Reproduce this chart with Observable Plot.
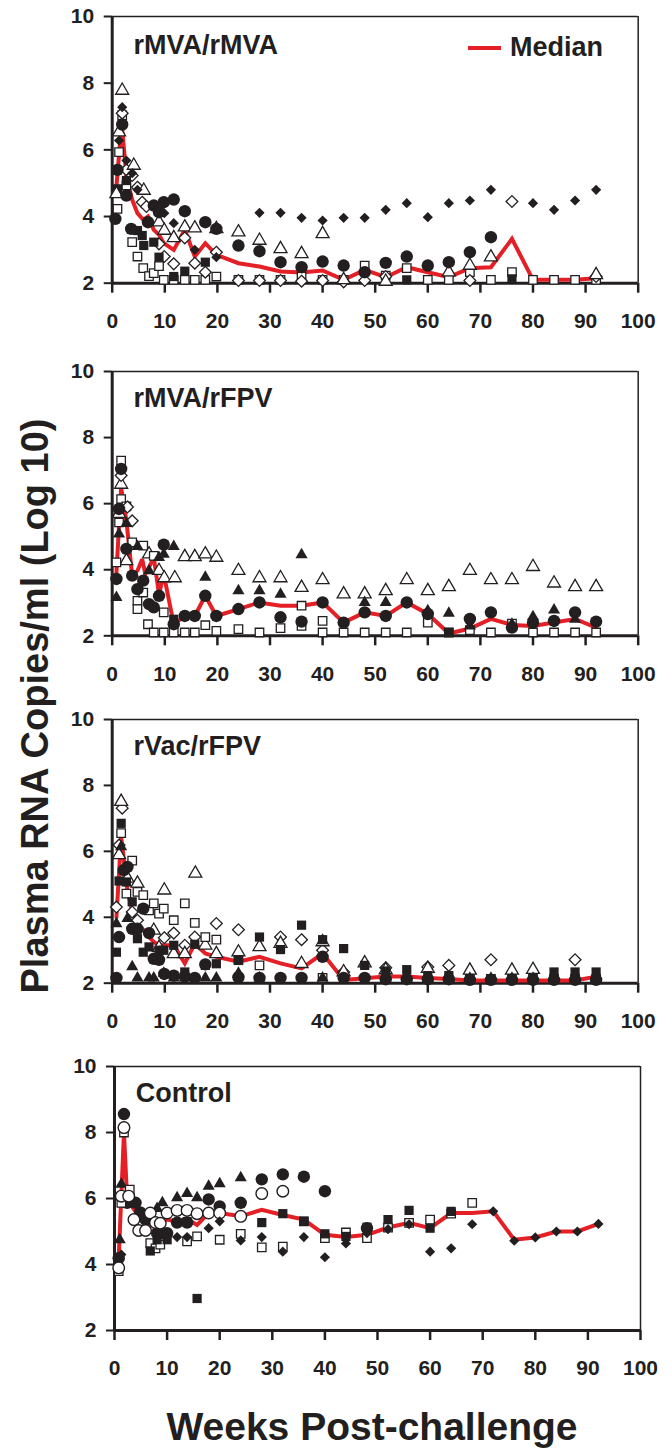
<!DOCTYPE html>
<html><head><meta charset="utf-8">
<script src="https://cdn.jsdelivr.net/npm/d3@7"></script>
<script src="https://cdn.jsdelivr.net/npm/@observablehq/plot@0.6"></script>
<style>
body{margin:0;background:#fff;}
#wrap{position:relative;width:671px;height:1453px;overflow:hidden;font-family:"Liberation Sans",Arial,Helvetica,sans-serif;font-weight:bold;color:#231f20;}
.panel{position:absolute;left:0;}
#ytitle{position:absolute;left:35px;top:706px;transform:translate(-50%,-50%) rotate(-90deg);white-space:nowrap;font-size:38px;line-height:1;}
#xtitle{position:absolute;left:372px;top:1407px;transform:translateX(-50%);white-space:nowrap;font-size:39px;line-height:1;}
#legend{position:absolute;left:468px;top:34px;font-size:27px;line-height:1;white-space:nowrap;}
#legend .bar{position:absolute;left:0;top:12px;width:33px;height:4px;background:#e41f26;}
#legend .lbl{position:absolute;left:42px;top:0;}
</style></head><body><div id="wrap"></div>
<script>
const xTicks = [0,10,20,30,40,50,60,70,80,90,100];
const yTicks = [2,4,6,8,10];
const panelLabels = ["rMVA/rMVA","rMVA/rFPV","rVac/rFPV","Control"];
const legendLabel = "Median";
const yTitle = "Plasma RNA Copies/ml (Log 10)";
const xTitle = "Weeks Post-challenge";

// ---- Panel 1: rMVA/rMVA ----
const p1Median = [[0.8,4.9],[1.8,6.8],[2.7,5.2],[3.8,4.5],[4.8,4.1],[5.9,3.9],[6.8,4.0],[7.9,3.6],[8.9,3.45],[9.8,3.2],[11.7,3.0],[13.8,3.6],[15.7,2.8],[17.7,3.2],[19.8,2.85],[24,2.6],[28,2.5],[32,2.35],[36,2.32],[40,2.38],[44,2.1],[48,2.4],[52,2.18],[56,2.48],[60,2.33],[64,2.18],[68,2.45],[72,2.48],[76,3.33],[80,2.1],[84,2.1],[88,2.1],[92,2.15]];
const p1CircleF = [[0.6,3.93],[1,5.4],[1.9,6.76],[2.7,4.63],[3.6,3.63],[6.8,3.83],[7.9,4.33],[8.9,4.13],[9.8,4.43],[11.7,4.51],[13.8,4.16],[17.7,3.83],[19.8,3.63],[24,3.13],[28,2.96],[32,2.63],[36,2.48],[40,2.65],[44,2.53],[48,2.33],[52,2.61],[56,2.8],[60,2.53],[64,2.63],[68,2.93],[72,3.38]];
const p1TriangleO = [[0.8,4.68],[1.3,6.53],[1.9,7.78],[4.1,5.53],[6,4.78],[8.9,3.83],[9.9,3.58],[11.7,3.36],[13.8,3.68],[15.7,3.65],[19.8,3.63],[24,3.53],[28,3.28],[32,3.03],[36,2.88],[40,3.48],[44,2.1],[52,2.05],[64,2.33],[68,2.53],[72,2.78],[92,2.25]];
const p1DiamondF = [[1.3,6.28],[1.9,7.28],[2.7,5.68],[3.8,5.3],[4.8,4.8],[9.9,4.1],[11.7,3.8],[15.7,3.0],[19.8,2.78],[28,4.11],[32,4.11],[36,3.96],[40,3.88],[44,3.96],[48,3.96],[52,4.2],[56,4.4],[60,3.98],[64,4.4],[68,4.48],[72,4.8],[80,4.4],[84,4.2],[88,4.48],[92,4.8]];
const p1DiamondO = [[1.9,7.1],[2.7,5.4],[3.8,5.23],[4.8,4.88],[5.7,4.43],[6.5,4.3],[8.9,3.18],[9.9,2.8],[11.7,2.58],[13.8,3.36],[15.7,2.6],[17.7,2.33],[19.8,2.93],[24,2.08],[28,2.08],[32,2.08],[36,2.06],[40,2.08],[44,2.04],[48,2.08],[52,2.2],[68,2.08],[76,4.45],[92,2.2]];
const p1SquareF = [[1,4.83],[2.7,5.08],[4.8,3.58],[5.7,3.43],[6,3.13],[7.9,3.23],[8.9,2.78],[11.7,2.2],[13.8,2.36],[17.7,2.63],[56,2.1],[76,2.13]];
const p1SquareO = [[1,4.23],[1.3,5.93],[1.9,7.03],[2.7,4.93],[3.8,3.23],[4.8,2.8],[5.9,2.45],[7,2.21],[7.9,2.3],[8.9,2.51],[9.8,2.1],[11.7,2.1],[13.8,2.1],[15.7,2.1],[17.7,2.1],[19.8,2.2],[24,2.1],[28,2.1],[32,2.1],[36,2.2],[40,2.1],[44,2.1],[48,2.53],[52,2.23],[56,2.45],[60,2.1],[64,2.1],[68,2.33],[72,2.1],[76,2.33],[80,2.1],[84,2.1],[88,2.1],[92,2.1]];

// ---- Panel 2: rMVA/rFPV ----
const p2Median = [[0.8,3.9],[1.7,6.49],[2.7,5.48],[3.8,3.82],[4.8,3.97],[5.7,4.32],[6.3,3.87],[7,4.07],[7.9,4.37],[8.9,3.26],[9.8,3.87],[11.7,2.35],[13.8,2.6],[15.7,2.6],[17.7,3.21],[19.8,2.6],[24,2.81],[28,3.01],[32,2.91],[36,2.91],[40,3.01],[44,2.4],[48,2.71],[52,2.6],[56,3.01],[60,2.66],[64,2.07],[68,2.22],[72,2.51],[76,2.33],[80,2.3],[84,2.4],[88,2.51],[92,2.25]];
const p2CircleF = [[0.8,3.72],[1.3,5.84],[1.7,7.05],[2.7,4.63],[3.8,3.82],[4.8,3.41],[5.9,3.67],[7,2.96],[7.9,2.86],[8.9,3.21],[9.8,4.76],[11.7,2.35],[13.8,2.6],[15.7,2.6],[17.7,3.21],[19.8,2.6],[24,2.81],[28,3.01],[32,2.56],[36,2.43],[40,3.01],[44,2.4],[48,2.71],[52,2.6],[56,3.01],[60,2.66],[68,2.51],[72,2.71],[76,2.25],[80,2.4],[84,2.45],[88,2.71],[92,2.43]];
const p2TriangleF = [[0.8,3.16],[1.3,5.08],[2.7,5.4],[4.8,4.7],[7,3.97],[8.9,4.37],[9.8,4.47],[11.7,4.7],[17.7,3.77],[24,3.36],[28,3.36],[32,3.26],[36,4.45],[48,3.01],[52,3.01],[60,2.76],[64,2.68],[68,2.3],[76,2.35],[80,2.58],[84,2.78],[88,2.5]];
const p2TriangleO = [[1.3,5.7],[1.7,6.58],[2.7,4.27],[7,4.47],[8.9,3.97],[9.9,3.75],[11.9,3.75],[13.8,4.39],[15.7,4.39],[17.7,4.47],[19.8,4.37],[24,3.97],[28,3.75],[32,3.75],[36,3.46],[40,3.69],[44,3.26],[48,3.26],[52,3.36],[56,3.69],[60,3.36],[64,3.48],[68,3.97],[72,3.69],[76,3.69],[80,4.09],[84,3.59],[88,3.48],[92,3.48]];
const p2SquareF = [[11.7,2.5],[64,2.1]];
const p2SquareO = [[0.8,4.22],[1.3,5.43],[1.7,7.3],[1.7,6.14],[2.7,5.92],[3.8,4.83],[4.8,3.06],[4.8,2.81],[5.9,4.73],[5.9,3.31],[6.8,2.35],[7.9,4.42],[7.9,2.1],[9.8,2.71],[9.8,2.1],[11.7,2.1],[13.8,2.1],[15.7,2.1],[17.7,2.32],[19.8,2.15],[24,2.2],[28,2.1],[32,2.23],[36,2.91],[36,2.3],[40,2.45],[40,2.1],[44,2.1],[48,2.1],[52,2.1],[56,2.1],[60,2.4],[64,2.1],[68,2.17],[72,2.1],[76,2.37],[80,2.1],[84,2.1],[88,2.1],[92,2.1]];
const p2DiamondO = [[1.7,6.85],[2.9,5.9],[3.8,5.48]];

// ---- Panel 3: rVac/rFPV ----
const p3Median = [[0.8,4.0],[1.7,6.45],[2.9,4.8],[3.8,4.2],[4.8,3.8],[6,3.6],[7,3.4],[7.9,3.25],[8.9,3.15],[9.8,3.15],[11.7,3.15],[13.8,2.6],[15.7,3.2],[17.7,2.9],[19.8,2.8],[24,2.65],[28,2.8],[32,2.6],[36,2.45],[40,2.9],[44,2.1],[48,2.15],[52,2.2],[56,2.2],[60,2.16],[64,2.13],[68,2.08],[72,2.08],[76,2.08],[80,2.08],[84,2.08],[88,2.08],[92,2.2]];
const p3CircleF = [[0.8,2.16],[1.3,3.4],[2.2,5.43],[2.9,5.53],[3.8,3.65],[4.8,3.65],[5.9,4.26],[7,3.52],[7.9,2.74],[8.9,2.71],[9.9,2.28],[11.7,2.23],[13.8,2.2],[15.7,2.16],[17.7,2.57],[24,2.18],[28,2.16],[32,2.16],[36,2.16],[40,2.8],[44,2.16],[48,2.16],[52,2.12],[56,2.12],[60,2.12],[64,2.12],[68,2.1],[72,2.1],[76,2.1],[80,2.1],[84,2.1],[88,2.1],[92,2.1]];
const p3SquareF = [[0.8,2.94],[1.3,5.1],[1.7,6.85],[2.7,5.07],[3.8,4.47],[4.8,3.35],[5.9,2.94],[7,3.1],[8.9,3.0],[9.8,3.0],[11.7,3.15],[13.8,2.34],[15.7,3.18],[17.7,2.54],[19.8,2.59],[24,2.69],[28,3.4],[32,3.02],[36,3.76],[40,3.32],[44,3.05],[48,2.54],[52,2.37],[56,2.41],[60,2.23],[64,2.23],[84,2.34],[88,2.34],[92,2.34]];
const p3SquareO = [[1.7,6.55],[2.7,4.72],[3.8,5.72],[4.8,4.77],[5.9,4.67],[7,4.21],[7.9,4.42],[8.9,4.11],[9.8,4.26],[11.7,3.91],[13.8,4.42],[15.7,3.83],[17.7,3.4],[19.8,3.32],[24,2.71],[28,2.54],[40,2.16],[68,2.13],[72,2.13],[76,2.13],[80,2.13],[84,2.13],[88,2.13],[92,2.13]];
const p3TriangleO = [[1.3,5.89],[1.7,7.51],[2.9,5.18],[4.8,5.03],[7.9,3.6],[8.9,3.08],[9.9,4.82],[11.7,2.89],[13.8,2.89],[15.8,5.33],[17.7,3.15],[19.8,2.89],[24,2.94],[28,3.1],[32,3.2],[36,2.59],[40,3.25],[44,2.34],[48,2.61],[52,2.4],[60,2.44],[68,2.39],[76,2.39],[80,2.41]];
const p3DiamondO = [[0.8,4.31],[1.3,6.19],[1.9,7.31],[3.8,4.16],[4.8,3.91],[9.9,3.38],[11.7,3.52],[13.8,3.15],[15.7,3.4],[19.8,3.81],[24,3.62],[32,3.4],[36,3.32],[40,3.0],[44,2.34],[52,2.47],[60,2.49],[64,2.54],[72,2.71],[88,2.71]];
const p3TriangleF = [[0.8,3.8],[1.7,6.14],[2.9,3.96],[3.8,2.5],[4.8,2.16],[7,2.16],[7.9,2.16],[9.8,2.3],[11.7,2.16],[13.8,2.16],[17.7,2.16],[19.8,2.16],[24,2.3],[28,2.16],[40,2.16],[52,2.2],[56,2.2],[60,2.15],[64,2.15],[68,2.15],[72,2.15],[76,2.15],[80,2.15],[84,2.15],[88,2.15],[92,2.15]];

// ---- Panel 4: Control ----
const p4Median = [[0.8,4.2],[1.8,8.0],[2.4,5.97],[4,5.6],[4.9,5.4],[5.9,5.3],[6.8,5.2],[8.1,5.25],[9.1,5.3],[10,5.36],[11.9,5.3],[13.8,5.38],[15.7,5.2],[17.9,5.56],[20,5.56],[24,5.46],[28,5.66],[32,5.5],[36,5.36],[40,4.9],[44,4.83],[48,4.9],[52,5.12],[56,5.26],[60,5.1],[64,5.56],[68,5.56],[72,5.61],[76,4.75],[80,4.82],[84,5.0],[88,5.0],[92,5.23]];
const p4TriangleF = [[1,4.75],[1.3,6.43],[8.1,5.7],[9.1,5.87],[11.9,6.02],[13.8,6.15],[15.7,6.02],[17.9,6.37],[20,6.45],[24,6.63]];
const p4CircleF = [[0.8,4.19],[1.8,8.56],[2.4,5.87],[4,5.87],[4.9,5.58],[5.9,5.36],[8.1,4.95],[9.1,4.95],[10,4.95],[11.9,5.27],[13.8,5.27],[17.9,5.97],[20,5.76],[24,5.87],[28,6.58],[32,6.73],[36,6.66],[40,6.22],[48,5.1]];
const p4SquareO = [[0.8,3.8],[1.3,5.87],[1.8,8.0],[2.9,6.27],[6.8,4.65],[7.8,4.49],[8.7,4.6],[13.8,4.7],[15.7,4.85],[20,4.75],[24,4.93],[28,4.52],[32,4.54],[36,5.31],[40,4.8],[44,4.97],[48,4.8],[52,5.12],[56,5.26],[60,5.36],[64,5.54],[68,5.87]];
const p4SquareF = [[6.8,4.41],[8.1,4.75],[10,4.75],[13.8,5.3],[15.7,2.97],[28,5.27],[32,5.54],[36,5.31],[40,4.93],[44,4.85],[48,5.13],[52,5.36],[56,5.64],[60,5.1],[64,5.61]];
const p4CircleO = [[0.8,3.9],[1.3,6.07],[1.8,8.15],[2.7,6.07],[3.7,5.36],[4.6,5.03],[5.9,5.03],[6.8,5.56],[7.8,5.27],[8.7,5.25],[10,5.56],[11.9,5.64],[13.8,5.64],[15.7,5.54],[17.9,5.56],[20,5.56],[24,5.46],[28,6.15],[32,6.22]];
const p4DiamondF = [[1.3,4.3],[11.9,4.83],[13.8,4.83],[17.9,5.1],[20,5.31],[24,4.73],[28,4.83],[32,4.39],[36,4.83],[40,4.22],[44,4.64],[48,4.95],[52,5.07],[56,5.22],[60,4.39],[64,4.49],[68,5.22],[72,5.61],[76,4.72],[80,4.82],[84,5.0],[88,5.0],[92,5.23]];

const INK = "#231f20", RED = "#e41f26";
const STY = {
  circleF:   {symbol: "circle",    r: 6.2, fill: INK, stroke: "none"},
  circleO:   {symbol: "circle",    r: 5.8, fill: "white", stroke: INK, strokeWidth: 1.4},
  triangleF: {symbol: "triangle",  r: 4.5, fill: INK, stroke: "none"},
  triangleO: {symbol: "triangle2", r: 6.2, fill: "white", stroke: INK, strokeWidth: 1.3},
  squareF:   {symbol: "square",    r: 5.2, fill: INK, stroke: "none"},
  squareO:   {symbol: "square2",   r: 5.4, fill: "white", stroke: INK, strokeWidth: 1.3},
  diamondF:  {symbol: "diamond2",  r: 4.6, fill: INK, stroke: "none"},
  diamondO:  {symbol: "diamond2",  r: 5.3, fill: "white", stroke: INK, strokeWidth: 1.3}
};

const panels = [
  {L: 111.7, R: 637.7, T: 16,    B: 282.7, ly: 18, label: panelLabels[0], median: p1Median,
   series: [["squareO",p1SquareO],["diamondO",p1DiamondO],["squareF",p1SquareF],["triangleO",p1TriangleO],["circleF",p1CircleF],["diamondF",p1DiamondF]]},
  {L: 111.7, R: 637.7, T: 370.7, B: 635,   ly: 16, label: panelLabels[1], median: p2Median,
   series: [["triangleO",p2TriangleO],["squareO",p2SquareO],["diamondO",p2DiamondO],["squareF",p2SquareF],["triangleF",p2TriangleF],["circleF",p2CircleF]]},
  {L: 111.7, R: 637.7, T: 719,   B: 982.7, ly: 16, label: panelLabels[2], median: p3Median,
   series: [["diamondO",p3DiamondO],["triangleO",p3TriangleO],["squareO",p3SquareO],["squareF",p3SquareF],["circleF",p3CircleF],["triangleF",p3TriangleF]]},
  {L: 114,   R: 640,   T: 1066,  B: 1330,  ly: 16, label: panelLabels[3], median: p4Median,
   series: [["triangleF",p4TriangleF],["circleF",p4CircleF],["squareO",p4SquareO],["squareF",p4SquareF],["circleO",p4CircleO],["diamondF",p4DiamondF]]}
];

const wrap = document.getElementById("wrap");
const mt = 20, mb = 60;
for (const p of panels) {
  const marks = [
    Plot.ruleY([10], {stroke: INK, strokeWidth: 1.5}),
    Plot.ruleX([100], {stroke: INK, strokeWidth: 1.5}),
    Plot.axisX({ticks: xTicks, tickSize: 10, tickPadding: 20, strokeWidth: 2.5, fontSize: 21, fontWeight: "bold", label: null, tickFormat: d => String(d)}),
    Plot.axisY({ticks: yTicks, tickSize: 8, tickPadding: 10, strokeWidth: 2, fontSize: 21, fontWeight: "bold", label: null, tickFormat: d => String(d)}),
    Plot.ruleY([2], {stroke: INK, strokeWidth: 3}),
    Plot.ruleX([0], {stroke: INK, strokeWidth: 3}),
    Plot.line(p.median, {x: d => d[0], y: d => d[1], stroke: RED, strokeWidth: 4, strokeLinejoin: "miter", strokeMiterlimit: 3})
  ];
  for (const [kind, data] of p.series) {
    marks.push(Plot.dot(data, {x: d => d[0], y: d => d[1], ...STY[kind]}));
  }
  marks.push(Plot.text([p.label], {text: d => d, frameAnchor: "top-left", dx: 21.3, dy: p.ly, textAnchor: "start", lineAnchor: "top", fontSize: 27, fontWeight: "bold", fill: INK}));
  const svg = Plot.plot({
    width: 671,
    height: p.B - p.T + mt + mb,
    marginTop: mt, marginBottom: mb,
    marginLeft: p.L, marginRight: 671 - p.R,
    x: {domain: [0, 100]},
    y: {domain: [2, 10]},
    style: {fontFamily: '"Liberation Sans", Arial, Helvetica, sans-serif', fontWeight: "bold", color: INK, background: "transparent", overflow: "visible"},
    marks
  });
  svg.classList.add("panel");
  svg.style.position = "absolute";
  svg.style.left = "0px";
  svg.style.top = (p.T - mt) + "px";
  wrap.appendChild(svg);
}

const leg = document.createElement("div");
leg.id = "legend";
leg.innerHTML = '<span class="bar"></span><span class="lbl"></span>';
leg.querySelector(".lbl").textContent = legendLabel;
wrap.appendChild(leg);

const yt = document.createElement("div");
yt.id = "ytitle"; yt.textContent = yTitle;
wrap.appendChild(yt);
const xt = document.createElement("div");
xt.id = "xtitle"; xt.textContent = xTitle;
wrap.appendChild(xt);
</script>
</body></html>
